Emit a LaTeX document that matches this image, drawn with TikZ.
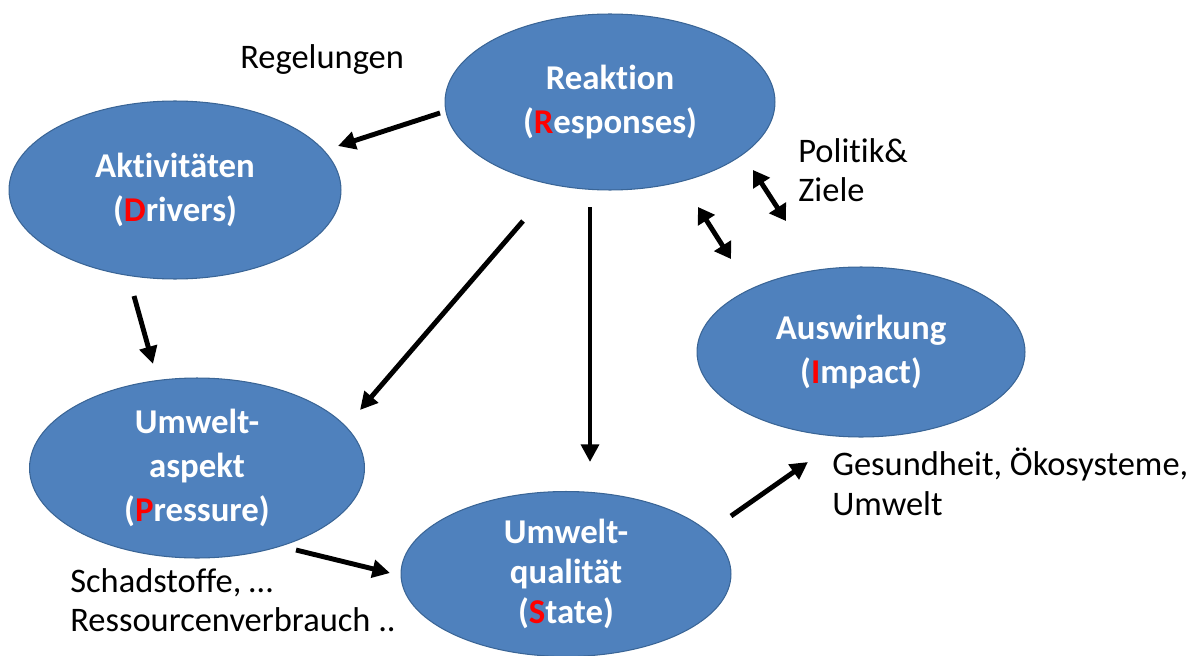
\documentclass[tikz,border=0pt]{standalone}
\usepackage{fontspec}
\setmainfont{Carlito}[Ligatures={NoCommon,NoContextual},RawFeature={-liga;-clig;-calt;-dlig}]
\usetikzlibrary{shapes.geometric,arrows.meta}
\definecolor{boxfill}{HTML}{4F81BD}
\definecolor{boxline}{HTML}{3A6596}
\definecolor{keyred}{HTML}{FF0000}
% keep t and i as separate glyphs
\newcommand{\nolig}{\kern0pt{}}
\begin{document}
\begin{tikzpicture}[x=0.02cm,y=-0.02cm,
  phase/.style={ellipse,draw=boxline,line width=0.6pt,fill=boxfill,inner sep=0pt,
    text=white,align=center,font=\fontsize{19.8}{25}\selectfont\bfseries},
  note/.style={align=left,anchor=west,inner sep=0pt,font=\fontsize{19.6}{22.5}\selectfont},
  flow/.style={line width=2.8pt,-{Triangle[length=10pt,width=10pt]}},
  both/.style={line width=2.8pt,{Triangle[length=9pt,width=11pt]}-{Triangle[length=9pt,width=11pt]}}]
\useasboundingbox (0,0) rectangle (1195,655);

% the five phases of the DPSIR model
\node[phase,minimum width=6.6cm,minimum height=3.52cm] (R) at (610,102)
  {Reakt\nolig ion\\(\textcolor{keyred}{R}esponses)};
\node[phase,minimum width=6.64cm,minimum height=3.56cm] (D) at (175,190)
  {Akt\nolig ivitäten\\(\textcolor{keyred}{D}rivers)};
\node[phase,minimum width=6.7cm,minimum height=3.6cm] (P) at (197,468)
  {Umwelt-\\aspekt\\(\textcolor{keyred}{P}ressure)};
\node[phase,minimum width=6.6cm,minimum height=3.3cm,font=\fontsize{19.8}{23}\selectfont\bfseries] (S) at (566,574)
  {Umwelt-\\qualität\\(\textcolor{keyred}{S}tate)};
\node[phase,minimum width=6.56cm,minimum height=3.4cm] (I) at (861,352)
  {Auswirkung\\(\textcolor{keyred}{I}mpact)};

% annotations
\node[note] (reg) at (240,60) {Regelungen};
\node[note] (pol) at (798,170) {Polit\nolig ik\&\\Ziele};
\node[note] (ges) at (832,482) {Gesundheit, Ökosysteme,\\Umwelt};
\node[note] (sch) at (70,600) {Schadstoffe, …\\Ressourcenverbrauch ..};

% arrow end points
\coordinate (rd1) at (440,113); \coordinate (rd2) at (338,146);
\coordinate (dp1) at (134,296); \coordinate (dp2) at (153,364);
\coordinate (rp1) at (523,221); \coordinate (rp2) at (360,410);
\coordinate (rs1) at (590,207); \coordinate (rs2) at (590,462);
\coordinate (ps1) at (296,550); \coordinate (ps2) at (390,573);
\coordinate (si1) at (731,516); \coordinate (si2) at (808,462);
\coordinate (ri1) at (753,170); \coordinate (ri2) at (786,221);
\coordinate (ir1) at (698,207); \coordinate (ir2) at (731,259);

\draw[flow] (rd1) -- (rd2);
\draw[flow] (dp1) -- (dp2);
\draw[flow] (rp1) -- (rp2);
\draw[flow] (rs1) -- (rs2);
\draw[flow] (ps1) -- (ps2);
\draw[flow] (si1) -- (si2);
\draw[both] (ri1) -- (ri2);
\draw[both] (ir1) -- (ir2);
\end{tikzpicture}
\end{document}
